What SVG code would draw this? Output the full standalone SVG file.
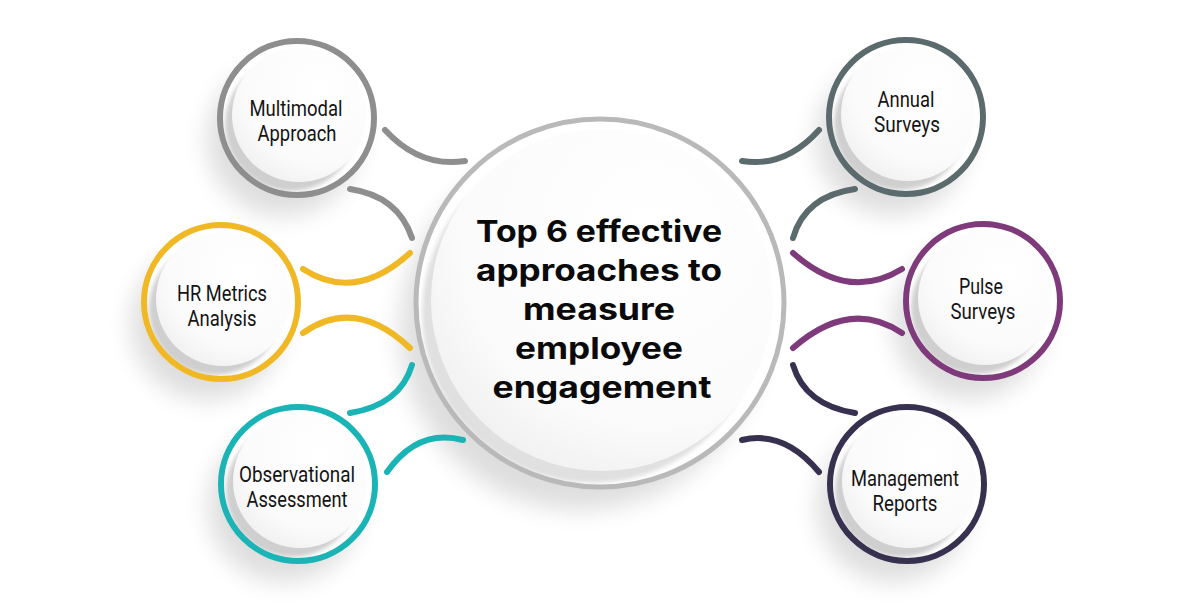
<svg xmlns="http://www.w3.org/2000/svg" xmlns:xlink="http://www.w3.org/1999/xlink" width="1200" height="610" viewBox="0 0 1200 610">
<defs>
  <filter id="softShadow" x="-60%" y="-60%" width="220%" height="220%"><feGaussianBlur stdDeviation="12"/></filter>
  <filter id="innerBlur" x="-20%" y="-20%" width="140%" height="140%"><feGaussianBlur stdDeviation="2"/></filter>
  <radialGradient id="faceGrad" cx="0.65" cy="0.3" r="0.8">
    <stop offset="0" stop-color="#ffffff"/>
    <stop offset="0.7" stop-color="#fbfbfb"/>
    <stop offset="1" stop-color="#efefef"/>
  </radialGradient>
  <g id="disc">
    <circle cx="0" cy="0" r="77" fill="#ffffff"/>
    <circle cx="-6" cy="7" r="66" fill="#cfcfcf" filter="url(#innerBlur)"/>
    <circle cx="2" cy="-3" r="67" fill="url(#faceGrad)"/>
  </g>
  <g id="bigDisc">
    <circle cx="0" cy="0" r="183" fill="#ffffff"/>
    <circle cx="-8" cy="10" r="170" fill="#e0e0e0" filter="url(#innerBlur)"/>
    <circle cx="2" cy="-3" r="171" fill="url(#faceGrad)"/>
  </g>
</defs>
<style>
  .shadow { fill: #000000; opacity: 0.13; }
  .conn { fill: none; stroke-width: 6; stroke-linecap: round; }
  .ring { fill: none; stroke-width: 6; }
  .lbl { font-family: Roboto, "Liberation Sans", sans-serif; font-size: 22px; fill: #141414; text-anchor: middle; }
  .title { font-family: Inter, "Liberation Sans", sans-serif; font-size: 30px; font-weight: 700; fill: #0a0a0a; text-anchor: middle; }
  .gray { stroke: #8e8e8e; }
  .yellow { stroke: #f1b825; }
  .teal { stroke: #1ab4b6; }
  .slate { stroke: #5b6a6c; }
  .purple { stroke: #7e3a7a; }
  .navy { stroke: #37304e; }
</style>
<rect width="1200" height="610" fill="#ffffff"/>

<g id="shadows">
  <circle class="shadow" cx="580" cy="330" r="180" filter="url(#softShadow)" opacity="0.08"/>
  <circle class="shadow" cx="283" cy="140" r="76" filter="url(#softShadow)"/>
  <circle class="shadow" cx="207" cy="324" r="76" filter="url(#softShadow)"/>
  <circle class="shadow" cx="284" cy="506" r="76" filter="url(#softShadow)"/>
  <circle class="shadow" cx="892" cy="139" r="76" filter="url(#softShadow)"/>
  <circle class="shadow" cx="969" cy="323" r="76" filter="url(#softShadow)"/>
  <circle class="shadow" cx="893" cy="506" r="76" filter="url(#softShadow)"/>
</g>

<g id="connectors">
  <path class="conn gray" d="M385,130 Q420,168 465,161"/>
  <path class="conn gray" d="M350,189 Q398,196 412,238"/>
  <path class="conn yellow" d="M303,269 Q355,303 410,253"/>
  <path class="conn yellow" d="M303,333 Q355,296 410,348"/>
  <path class="conn teal" d="M350,413 Q400,405 412,365"/>
  <path class="conn teal" d="M387,472 Q418,428 463,440"/>
  <path class="conn slate" d="M742,161 Q785,168 819,130"/>
  <path class="conn slate" d="M855,189 Q805,196 793,238"/>
  <path class="conn purple" d="M793,253 Q848,302 902,269"/>
  <path class="conn purple" d="M793,348 Q850,298 902,333"/>
  <path class="conn navy" d="M793,365 Q805,405 855,413"/>
  <path class="conn navy" d="M742,440 Q784,430 819,472"/>
</g>

<g id="center">
  <use xlink:href="#bigDisc" href="#bigDisc" transform="translate(600,303)"/>
  <circle cx="600" cy="303" r="184" fill="none" stroke="#b9b9b9" stroke-width="5"/>
  <text class="title" x="599" y="242" textLength="246" lengthAdjust="spacingAndGlyphs">Top 6 effective</text>
  <text class="title" x="599" y="281" textLength="246" lengthAdjust="spacingAndGlyphs">approaches to</text>
  <text class="title" x="599" y="320" textLength="152" lengthAdjust="spacingAndGlyphs">measure</text>
  <text class="title" x="599" y="359" textLength="168" lengthAdjust="spacingAndGlyphs">employee</text>
  <text class="title" x="602" y="398" textLength="219" lengthAdjust="spacingAndGlyphs">engagement</text>
</g>

<g id="node-multimodal">
  <use xlink:href="#disc" href="#disc" transform="translate(297,118)"/>
  <circle class="ring gray" cx="297" cy="118" r="77"/>
  <text class="lbl" x="296" y="116" textLength="93" lengthAdjust="spacingAndGlyphs">Multimodal</text>
  <text class="lbl" x="297" y="141" textLength="79" lengthAdjust="spacingAndGlyphs">Approach</text>
</g>

<g id="node-hr">
  <use xlink:href="#disc" href="#disc" transform="translate(221,302)"/>
  <circle class="ring yellow" cx="221" cy="302" r="77"/>
  <text class="lbl" x="222" y="301" textLength="90" lengthAdjust="spacingAndGlyphs">HR Metrics</text>
  <text class="lbl" x="222" y="326" textLength="69" lengthAdjust="spacingAndGlyphs">Analysis</text>
</g>

<g id="node-observational">
  <use xlink:href="#disc" href="#disc" transform="translate(298,484)"/>
  <circle class="ring teal" cx="298" cy="484" r="77"/>
  <text class="lbl" x="297" y="482" textLength="116" lengthAdjust="spacingAndGlyphs">Observational</text>
  <text class="lbl" x="297" y="507" textLength="101" lengthAdjust="spacingAndGlyphs">Assessment</text>
</g>

<g id="node-annual">
  <use xlink:href="#disc" href="#disc" transform="translate(906,117)"/>
  <circle class="ring slate" cx="906" cy="117" r="77"/>
  <text class="lbl" x="906" y="107" textLength="57" lengthAdjust="spacingAndGlyphs">Annual</text>
  <text class="lbl" x="907" y="132" textLength="66" lengthAdjust="spacingAndGlyphs">Surveys</text>
</g>

<g id="node-pulse">
  <use xlink:href="#disc" href="#disc" transform="translate(983,301)"/>
  <circle class="ring purple" cx="983" cy="301" r="77"/>
  <text class="lbl" x="981" y="294" textLength="44" lengthAdjust="spacingAndGlyphs">Pulse</text>
  <text class="lbl" x="983" y="319" textLength="65" lengthAdjust="spacingAndGlyphs">Surveys</text>
</g>

<g id="node-management">
  <use xlink:href="#disc" href="#disc" transform="translate(907,484)"/>
  <circle class="ring navy" cx="907" cy="484" r="77"/>
  <text class="lbl" x="905" y="486" textLength="108" lengthAdjust="spacingAndGlyphs">Management</text>
  <text class="lbl" x="905" y="511" textLength="65" lengthAdjust="spacingAndGlyphs">Reports</text>
</g>
</svg>
